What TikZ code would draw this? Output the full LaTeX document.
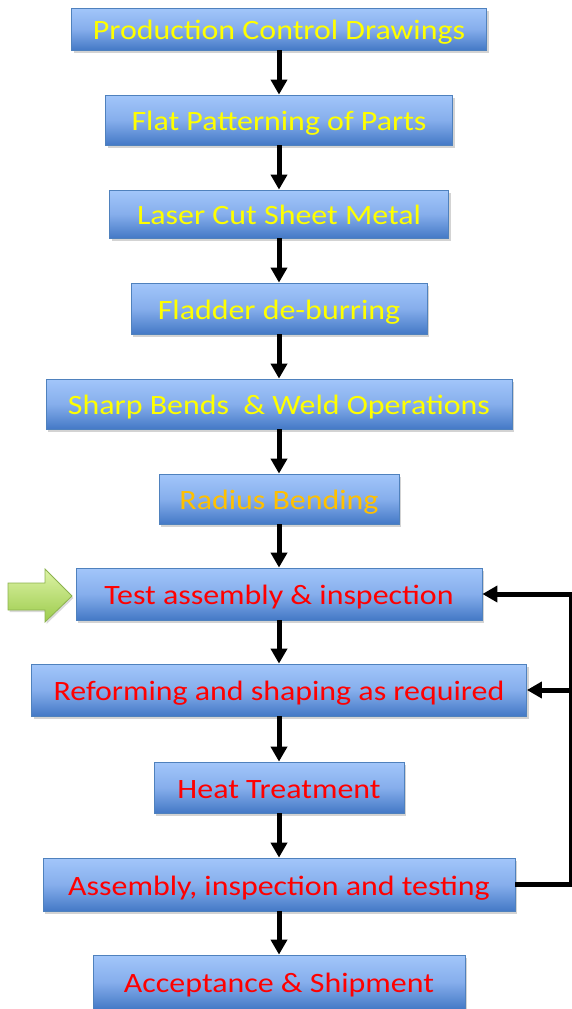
\documentclass[tikz,border=0pt]{standalone}
\usepackage{fontspec}
\setmainfont{Carlito}
\usetikzlibrary{arrows.meta,shadows,positioning}
\definecolor{boxtop}{HTML}{A2C6FA}
\definecolor{boxmid}{HTML}{86AEEC}
\definecolor{boxbot}{HTML}{4479C6}
\definecolor{boxline}{HTML}{4F81BD}
\definecolor{txtyellow}{HTML}{FFFF00}
\definecolor{txtorange}{HTML}{FFC000}
\definecolor{txtred}{HTML}{FF0000}
\definecolor{grtop}{HTML}{DDF3A6}
\definecolor{grbot}{HTML}{9CCB4C}
\definecolor{grline}{HTML}{8CB24E}
\newcommand{\wide}[1]{\scalebox{1.14}[1]{#1}}
\tikzset{
  stepbox/.style={draw=boxline, line width=0.8pt, top color=boxtop, bottom color=boxbot, middle color=boxmid,
    inner sep=0pt, font=\fontsize{28}{32}\selectfont, text height=21pt, text depth=0pt,
    drop shadow={opacity=0.35, shadow xshift=2pt, shadow yshift=-3pt}},
  flowarr/.style={line width=5pt, -{Triangle[length=15pt,width=16pt]}},
  fbline/.style={line width=5pt, line join=miter},
  greenarrow/.style={draw=grline, line width=0.8pt, top color=grtop, bottom color=grbot,
    line join=miter, drop shadow={opacity=0.3, shadow xshift=1.5pt, shadow yshift=-2pt}},
}
\begin{document}
\begin{tikzpicture}[x=1pt,y=-1pt]
\useasboundingbox (0,0) rectangle (572,1009);
\node[stepbox, minimum width=415pt, minimum height=42pt, text=txtyellow] (b1) at (279,29) {\wide{Production Control Drawings}};
\node[stepbox, minimum width=347pt, minimum height=50pt, text=txtyellow] (b2) at (279,120) {\wide{Flat Patterning of Parts}};
\node[stepbox, minimum width=339pt, minimum height=48pt, text=txtyellow] (b3) at (279,214) {\wide{Laser Cut Sheet Metal}};
\node[stepbox, minimum width=296pt, minimum height=51pt, text=txtyellow] (b4) at (279,308.5) {\wide{Fladder de-burring}};
\node[stepbox, minimum width=466pt, minimum height=50pt, text=txtyellow] (b5) at (279,404) {\wide{Sharp Bends\ \ \& Weld Operations}};
\node[stepbox, minimum width=240pt, minimum height=50pt, text=txtorange] (b6) at (279,499) {\wide{Radius Bending}};
\node[stepbox, minimum width=406pt, minimum height=52pt, text=txtred] (b7) at (279,594) {\wide{Test assembly \& inspection}};
\node[stepbox, minimum width=495pt, minimum height=52pt, text=txtred] (b8) at (279,690) {\wide{Reforming and shaping as required}};
\node[stepbox, minimum width=250pt, minimum height=51pt, text=txtred] (b9) at (279,787.5) {\wide{Heat Treatment}};
\node[stepbox, minimum width=472pt, minimum height=53pt, text=txtred] (b10) at (279,884.5) {\wide{Assembly, inspection and testing}};
\node[stepbox, minimum width=372pt, minimum height=54pt, text=txtred] (b11) at (279,982) {\wide{Acceptance \& Shipment}};
\foreach \a/\b in {b1/b2,b2/b3,b3/b4,b4/b5,b5/b6,b6/b7,b7/b8,b8/b9,b9/b10,b10/b11}
  \draw[flowarr] (\a.south) -- (\b.north);
\coordinate (c1) at (571.5,884.5);
\coordinate (c2) at (571.5,690);
\draw[fbline] (b10.east) -- (c1);
\draw[fbline, -{Triangle[length=15pt,width=16pt]}] (c1) |- (b7.east);
\draw[flowarr] (c2) -- (b8.east);
\path[greenarrow] (8,583) -- (45,583) -- (45,569) -- (72,596) -- (45,622) -- (45,610) -- (8,610) -- cycle;
\end{tikzpicture}
\end{document}
